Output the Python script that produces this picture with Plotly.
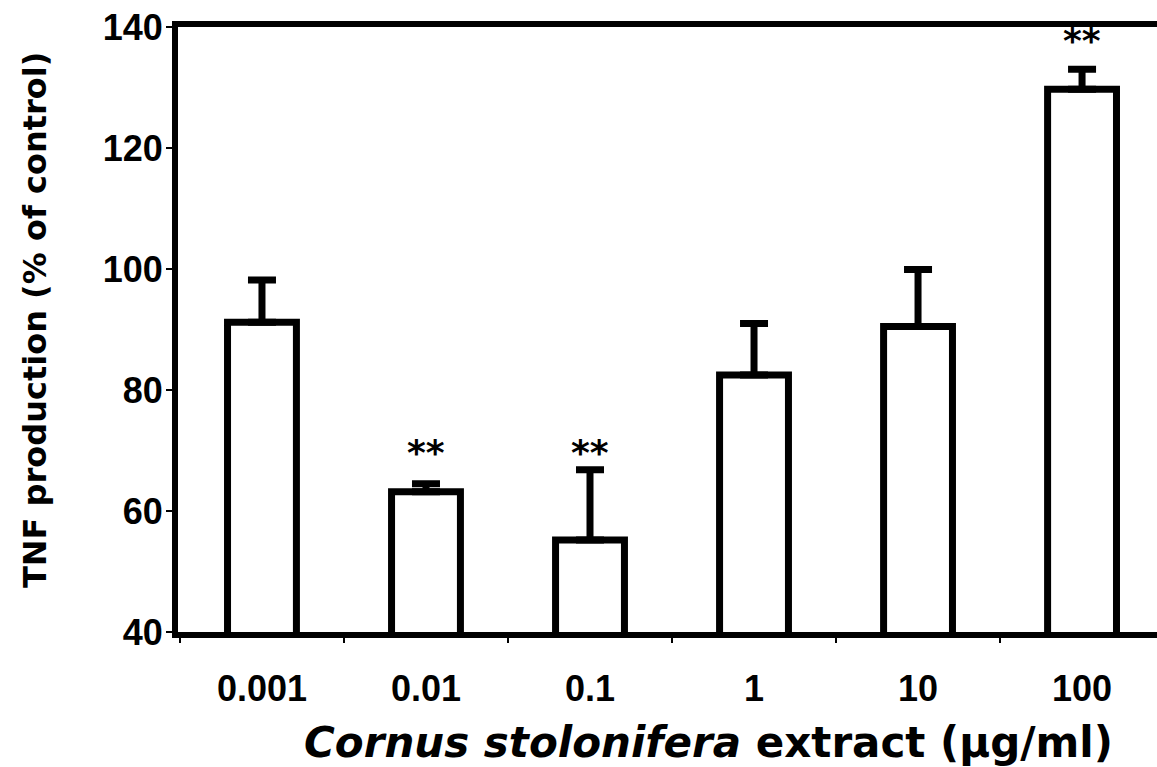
import plotly.graph_objects as go

categories = ["0.001", "0.01", "0.1", "1", "10", "100"]
means = [91.2, 63.2, 55.2, 82.5, 90.5, 129.7]
errors = [7.0, 1.3, 11.6, 8.5, 9.4, 3.3]
sig_marks = ["", "**", "**", "", "", "**"]
sig_y = [None, 69.6, 69.6, None, None, 137.7]
y_ticks = [40, 60, 80, 100, 120, 140]

TICKFONT = "Liberation Sans, Arial, sans-serif"
FONT = "DejaVu Sans, Liberation Sans, sans-serif"
L, T, W, H, B = 178, 27, 1157, 767, 135
PW = W - L
PH = H - T - B

fig = go.Figure()
fig.add_trace(go.Bar(
    x=list(range(len(categories))), y=means, width=0.42,
    marker=dict(color="white", line=dict(color="black", width=7)),
    error_y=dict(type="data", array=errors, arrayminus=[0] * len(errors),
                 symmetric=False, color="black", thickness=7, width=14),
    showlegend=False,
))

for i, (m, yv) in enumerate(zip(sig_marks, sig_y)):
    if m:
        fig.add_annotation(x=i, y=yv, text="<b>" + m + "</b>", showarrow=False,
                           font=dict(family=FONT, size=36, color="black"),
                           xref="x", yref="y", xanchor="center", yanchor="middle")

fig.add_annotation(
    text="<b><i>Cornus stolonifera</i> extract (µg/ml)</b>",
    xref="paper", yref="paper",
    x=(708 - L) / PW, y=-(742 - (T + PH)) / PH,
    xanchor="center", yanchor="middle", showarrow=False,
    font=dict(family=FONT, size=42, color="black"),
)
fig.add_annotation(
    text="<b>TNF production (% of control)</b>",
    xref="paper", yref="paper",
    x=(35 - L) / PW, y=((T + PH) - 320) / PH,
    xanchor="center", yanchor="middle", textangle=-90, showarrow=False,
    font=dict(family=FONT, size=32, color="black"),
)

fig.update_layout(
    width=W, height=H,
    margin=dict(l=L, r=0, t=T, b=B),
    plot_bgcolor="white", paper_bgcolor="white",
    font=dict(family=FONT, color="black"),
    xaxis=dict(
        range=[-0.512, 5.457],
        tickvals=list(range(len(categories))),
        ticktext=["<b>%s</b>" % c for c in categories],
        showline=True, linecolor="black", linewidth=6, mirror=True,
        ticks="", showgrid=False, zeroline=False,
        tickfont=dict(family=TICKFONT, size=36, color="black"),
        ticklabelstandoff=20,
        minor=dict(tickvals=[i - 0.5 for i in range(len(categories) + 1)],
                   ticks="outside", ticklen=5, tickwidth=2, tickcolor="black",
                   showgrid=False),
    ),
    yaxis=dict(
        range=[40, 140], tickvals=y_ticks,
        ticktext=["<b>%d</b>" % v for v in y_ticks],
        showline=True, linecolor="black", linewidth=6,
        ticks="outside", ticklen=6, tickwidth=2, tickcolor="black",
        showgrid=False, zeroline=False,
        tickfont=dict(family=TICKFONT, size=36, color="black"),
        ticklabelstandoff=-4,
    ),
)

fig.write_html("out.html")
